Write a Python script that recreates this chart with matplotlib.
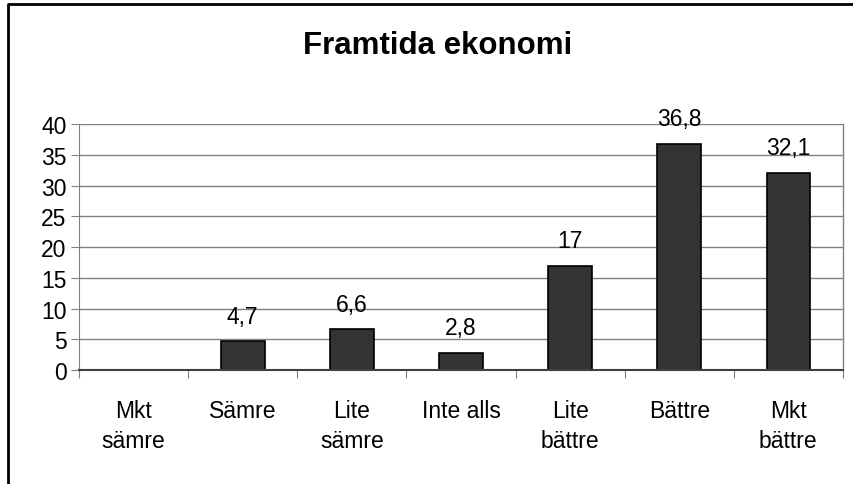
import matplotlib.pyplot as plt
import numpy as np

categories = ['Mkt\nsämre', 'Sämre', 'Lite\nsämre', 'Inte alls', 'Lite\nbättre', 'Bättre', 'Mkt\nbättre']
values = [0, 4.7, 6.6, 2.8, 17, 36.8, 32.1]
labels = ['', '4,7', '6,6', '2,8', '17', '36,8', '32,1']

plt.rcParams['font.family'] = ['Liberation Sans', 'DejaVu Sans']

fig = plt.figure(figsize=(8.54, 4.85), dpi=100)
# chart area frame: only left and top edges are visible in the crop
fig.add_artist(plt.Line2D([0.009, 0.009, 1.0], [0.0, 0.989, 0.989], transform=fig.transFigure,
                          color='black', linewidth=2))
ax = fig.add_axes([0.0925, 0.235, 0.8945, 0.507])

x = np.arange(len(categories))
ax.bar(x, values, width=0.4, color='#333333', edgecolor='black', linewidth=1.2, zorder=3)

for xi, v, lab in zip(x, values, labels):
    if lab:
        ax.annotate(lab, (xi, v), xytext=(0, 18), textcoords='offset points',
                    ha='center', va='center', fontsize=16.5)

ax.set_xlim(-0.5, len(categories) - 0.5)
ax.set_ylim(0, 40)
ax.set_yticks(range(0, 41, 5))
ax.yaxis.grid(True, color='#808080', linewidth=1, zorder=0)
ax.tick_params(axis='y', labelsize=16.5, length=6, color='#808080', pad=3)

# category ticks at boundaries, labels at centers
ax.set_xticks(np.arange(-0.5, len(categories), 1))
ax.set_xticklabels([])
ax.set_xticks(x, minor=True)
ax.set_xticklabels(categories, minor=True, fontsize=16.5, linespacing=1.38)
ax.tick_params(axis='x', which='major', length=6, color='#808080')
ax.tick_params(axis='x', which='minor', length=0, pad=21)

for s in ['top', 'right']:
    ax.spines[s].set_visible(False)
ax.spines['left'].set_color('#808080')
ax.spines['bottom'].set_color('#404040')
ax.spines['bottom'].set_linewidth(1.5)
ax.spines['bottom'].set_zorder(5)
ax.plot([1, 1], [0, 1], transform=ax.transAxes, color='#808080', linewidth=1, clip_on=False)

fig.text(0.513, 0.905, 'Framtida ekonomi', ha='center', va='center', fontsize=22.5, fontweight='bold')

fig.savefig('out.png', dpi=100)
